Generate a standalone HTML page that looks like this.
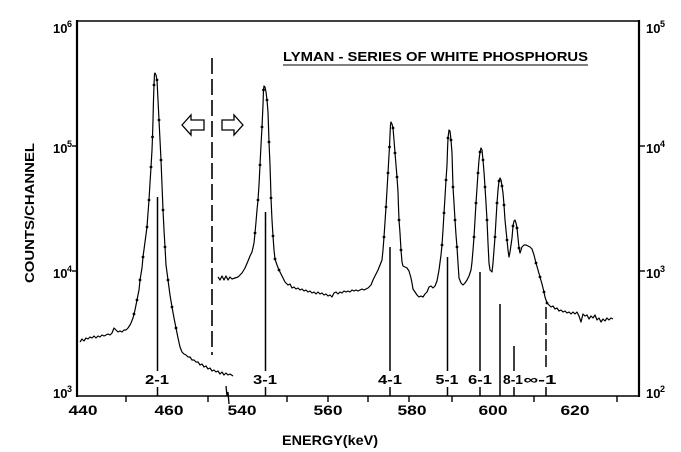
<!DOCTYPE html>
<html><head><meta charset="utf-8"><style>
html,body{margin:0;padding:0;background:#fff;}
svg{display:block;}
text{font-family:"Liberation Sans",sans-serif;fill:#000;}
</style></head><body>
<svg width="681" height="452" viewBox="0 0 681 452" xmlns="http://www.w3.org/2000/svg">
<rect width="681" height="452" fill="#fff"/>
<!-- frame -->
<line x1="77" y1="21" x2="639" y2="21" stroke="#000" stroke-width="1.6"/>
<line x1="77" y1="396" x2="639" y2="396" stroke="#000" stroke-width="1.6"/>
<line x1="77" y1="20" x2="77" y2="397" stroke="#000" stroke-width="2.2"/>
<line x1="639" y1="20" x2="639" y2="397" stroke="#000" stroke-width="2.2"/>
<!-- y ticks -->
<line x1="72" y1="146" x2="77" y2="146" stroke="#000" stroke-width="1.4"/>
<line x1="72" y1="271" x2="77" y2="271" stroke="#000" stroke-width="1.4"/>
<line x1="639" y1="146" x2="645" y2="146" stroke="#000" stroke-width="1.4"/>
<line x1="639" y1="271" x2="645" y2="271" stroke="#000" stroke-width="1.4"/>
<!-- x ticks -->
<g stroke="#000" stroke-width="1.4">
<line x1="126" y1="396" x2="126" y2="402"/>
<line x1="208" y1="396" x2="208" y2="402"/>
<line x1="287" y1="396" x2="287" y2="402"/>
<line x1="328" y1="396" x2="328" y2="402"/>
<line x1="368" y1="396" x2="368" y2="402"/>
<line x1="409" y1="396" x2="409" y2="402"/>
<line x1="452" y1="396" x2="452" y2="402"/>
<line x1="534" y1="396" x2="534" y2="402"/>
<line x1="617" y1="396" x2="617" y2="402"/>
</g>
<!-- axis break -->
<path d="M226,386 L227,396 L228,392 L229,404" fill="none" stroke="#000" stroke-width="1.3"/>
<!-- y labels left -->
<g font-weight="bold" font-size="13">
<text x="53" y="33">10</text><text x="67" y="27" font-size="9">6</text>
<text x="53" y="153">10</text><text x="67" y="147" font-size="9">5</text>
<text x="53" y="278">10</text><text x="67" y="272" font-size="9">4</text>
<text x="53" y="398">10</text><text x="67" y="392" font-size="9">3</text>
<!-- right -->
<text x="646" y="33">10</text><text x="660" y="27" font-size="9">5</text>
<text x="646" y="153">10</text><text x="660" y="147" font-size="9">4</text>
<text x="646" y="278">10</text><text x="660" y="272" font-size="9">3</text>
<text x="646" y="398">10</text><text x="660" y="392" font-size="9">2</text>
</g>
<!-- x labels -->
<g font-weight="bold" font-size="14" text-anchor="middle">
<text x="83" y="415" textLength="29" lengthAdjust="spacingAndGlyphs">440</text>
<text x="169" y="415" textLength="29" lengthAdjust="spacingAndGlyphs">460</text>
<text x="242" y="415" textLength="29" lengthAdjust="spacingAndGlyphs">540</text>
<text x="328" y="415" textLength="29" lengthAdjust="spacingAndGlyphs">560</text>
<text x="412" y="415" textLength="29" lengthAdjust="spacingAndGlyphs">580</text>
<text x="493" y="415" textLength="29" lengthAdjust="spacingAndGlyphs">600</text>
<text x="575" y="415" textLength="29" lengthAdjust="spacingAndGlyphs">620</text>
</g>
<text x="282" y="445" font-weight="bold" font-size="14" textLength="96" lengthAdjust="spacingAndGlyphs">ENERGY(keV)</text>
<text transform="translate(34,283) rotate(-90)" font-weight="bold" font-size="12.5" textLength="140" lengthAdjust="spacingAndGlyphs">COUNTS/CHANNEL</text>
<!-- title -->
<text x="283" y="61" font-size="13" font-weight="bold" textLength="305" lengthAdjust="spacingAndGlyphs">LYMAN - SERIES OF WHITE PHOSPHORUS</text>
<line x1="283" y1="65" x2="588" y2="65" stroke="#000" stroke-width="1.1"/>
<!-- dashed separator -->
<line x1="212" y1="58" x2="212" y2="355" stroke="#000" stroke-width="1.6" stroke-dasharray="16,5"/>
<!-- arrows -->
<path d="M182,125 L191,115 L191,120 L204,120 L204,130 L191,130 L191,135 Z" fill="#fff" stroke="#000" stroke-width="1.3"/>
<path d="M243,125 L234,115 L234,120 L222,120 L222,130 L234,130 L234,135 Z" fill="#fff" stroke="#000" stroke-width="1.3"/>
<!-- transition lines -->
<g stroke="#000" stroke-width="1.5">
<line x1="157.5" y1="197" x2="157.5" y2="371"/><line x1="157.5" y1="387" x2="157.5" y2="396"/>
<line x1="265.5" y1="212" x2="265.5" y2="371"/><line x1="265.5" y1="387" x2="265.5" y2="396"/>
<line x1="390" y1="247" x2="390" y2="371"/><line x1="390" y1="387" x2="390" y2="396"/>
<line x1="447.5" y1="257" x2="447.5" y2="371"/><line x1="447.5" y1="387" x2="447.5" y2="396"/>
<line x1="480" y1="272" x2="480" y2="371"/><line x1="480" y1="387" x2="480" y2="396"/>
<line x1="500" y1="304" x2="500" y2="396"/>
<line x1="514" y1="346" x2="514" y2="371"/><line x1="514" y1="387" x2="514" y2="396"/>
<line x1="546" y1="307" x2="546" y2="371" stroke-dasharray="12,4"/><line x1="546" y1="387" x2="546" y2="396"/>
</g>
<g font-weight="bold" font-size="13" text-anchor="middle">
<text x="157" y="384" textLength="24" lengthAdjust="spacingAndGlyphs">2-1</text>
<text x="265" y="384" textLength="24" lengthAdjust="spacingAndGlyphs">3-1</text>
<text x="390" y="384" textLength="24" lengthAdjust="spacingAndGlyphs">4-1</text>
<text x="447" y="384" textLength="23" lengthAdjust="spacingAndGlyphs">5-1</text>
<text x="480" y="384" textLength="24" lengthAdjust="spacingAndGlyphs">6-1</text>
<text x="513" y="384" textLength="20" lengthAdjust="spacingAndGlyphs">8-1</text>
<text x="540" y="384" textLength="33" lengthAdjust="spacingAndGlyphs">∞-1</text>
</g>
<!-- spectrum -->
<g fill="none" stroke="#000" stroke-width="1.2" stroke-linejoin="round">
<polyline points="80,342 82,339 84,341 86,338 88,339 90,337 92,338 94,336 96,338 98,336 100,337 102,335 104,336 106,335 108,334 110,335 112,333 114,328 116,330 118,332 120,331 122,332 124,330 126,330 128,328 130,325 131,323 133,318 135,310 137,300 139,290 140,280 142,268 143,257 145,242 147,227 148,213 149,200 150,183 151,167 152,150 152.5,137 153,120 153.5,100 154,85 154.5,74 155,73 156,75 157,80 158,100 159,120 160,140 161,160 162,185 163,210 164,230 165,247 166,265 168,280 170,295 172,307 174,318 176,328 178,338 180,347 182,352 184,354 186,355 188,357 190,357 192,360 194,360 196,362 198,362 200,365 202,364 204,367 206,366 208,369 210,368 212,371 214,370 216,372 218,371 220,374 222,372 224,375 226,373 228,375 230,374 233,376"/>
<polyline points="218,277 220,280 222,276 224,280 226,276 228,280 230,277 232,279 235,278 238,277 240,275 242,273 245,268 248,261 250,256 252,252 254,243 255,233 256,222 257,210 258,200 259,185 260,165 261,145 262,127 263,105 263.5,90 264,86 265,87 266,92 267,100 268,112 268.5,127 269,142 270,165 270.5,180 271,198 272,220 273,236 274,250 275,259 277,265 279,270 281,274 283,278 285,282 288,285 290,284 292,288 294,287 296,289 298,288 300,290 302,289 304,291 306,290 308,292 310,291 312,293 314,292 316,294 318,292 320,294 322,293 324,295 326,294 328,296 330,295 332,297 334,293 336,292 338,294 340,292 342,293 344,291 346,292 348,291 350,292 352,290 354,291 356,290 358,291 360,290 362,289 364,290 366,289 368,288 371,285 373,280 376,274 378,270 380,265 382,260 383,250 384,237 385,222 386,207 387,190 388,173 389,155 389.5,147 390,135 390.5,125 391,122 392,124 393,128 394,140 395,153 396,165 397,177 398,192 398.5,207 399,220 400,233 401,250 402,262 403,266 405,267 407,268 409,271 411,278 412,283 413,289 415,292 417,295 419,297 421,296 423,297 425,294 427,292 429,287 431,286 433,288 435,286 437,281 439,270 441,255 442,245 443,230 444,213 445,197 446,180 447,165 447.5,150 448,138 449,130 450,131 451,140 452,153 452.5,170 453,187 454,203 455,220 456,235 457,247 458,263 459,278 461,283 463,285 465,283 467,280 469,276 471,270 472,262 473,250 474,237 475,220 476,203 477,188 478,173 479,160 480,152 481,148 482,150 483,160 484,172 485,187 486,203 487,220 488,243 489,263 490,270 492,272 493,263 494,250 495,237 496,220 497,203 498,190 499,181 500,178 501,180 502,186 503,193 504,205 505,220 506,230 507,240 508,250 509,257 510,252 511,245 512,238 513,226 514,221 515,220 516,223 517,228 518,238 519,248 520,253 521,250 522,247 524,245 526,245 528,246 530,247 532,249 534,255 536,263 538,270 540,277 542,284 544,292 545,297 547,303 549,305 551,307 553,306 555,309 557,308 559,311 561,310 563,312 565,311 567,313 569,312 571,314 573,312 575,314 577,312 579,316 581,322 583,314 585,316 587,315 589,319 591,316 593,318 595,315 597,320 599,318 601,322 603,319 605,321 607,318 609,320 611,318 613,319"/>
</g>
<!-- dots -->
<g fill="#000">
<circle cx="143" cy="257" r="1.4"/><circle cx="147" cy="227" r="1.4"/><circle cx="149" cy="200" r="1.4"/><circle cx="151" cy="167" r="1.4"/><circle cx="152.5" cy="137" r="1.4"/><circle cx="154" cy="85" r="1.4"/><circle cx="157" cy="80" r="1.4"/><circle cx="159" cy="120" r="1.4"/><circle cx="161" cy="160" r="1.4"/><circle cx="163" cy="210" r="1.4"/><circle cx="165" cy="247" r="1.4"/><circle cx="168" cy="280" r="1.4"/><circle cx="172" cy="307" r="1.4"/><circle cx="176" cy="328" r="1.4"/><circle cx="140" cy="280" r="1.4"/><circle cx="137" cy="300" r="1.4"/><circle cx="134" cy="314" r="1.4"/>
<circle cx="255" cy="233" r="1.4"/><circle cx="258" cy="200" r="1.4"/><circle cx="260" cy="165" r="1.4"/><circle cx="262" cy="127" r="1.4"/><circle cx="263.5" cy="90" r="1.4"/><circle cx="267" cy="100" r="1.4"/><circle cx="269" cy="142" r="1.4"/><circle cx="271" cy="198" r="1.4"/><circle cx="273" cy="236" r="1.4"/><circle cx="275" cy="259" r="1.4"/><circle cx="279" cy="270" r="1.4"/>
<circle cx="384" cy="237" r="1.4"/><circle cx="386" cy="207" r="1.4"/><circle cx="388" cy="173" r="1.4"/><circle cx="389.5" cy="147" r="1.4"/><circle cx="393" cy="128" r="1.4"/><circle cx="395" cy="153" r="1.4"/><circle cx="397" cy="177" r="1.4"/><circle cx="399" cy="220" r="1.4"/><circle cx="401" cy="250" r="1.4"/>
<circle cx="442" cy="245" r="1.4"/><circle cx="444" cy="213" r="1.4"/><circle cx="446" cy="180" r="1.4"/><circle cx="448" cy="138" r="1.4"/><circle cx="451" cy="140" r="1.4"/><circle cx="453" cy="187" r="1.4"/><circle cx="455" cy="220" r="1.4"/><circle cx="457" cy="247" r="1.4"/>
<circle cx="474" cy="237" r="1.4"/><circle cx="476" cy="203" r="1.4"/><circle cx="478" cy="173" r="1.4"/><circle cx="480" cy="152" r="1.4"/><circle cx="483" cy="160" r="1.4"/><circle cx="485" cy="187" r="1.4"/><circle cx="487" cy="220" r="1.4"/>
<circle cx="495" cy="237" r="1.4"/><circle cx="497" cy="203" r="1.4"/><circle cx="499" cy="181" r="1.4"/><circle cx="502" cy="186" r="1.4"/><circle cx="504" cy="205" r="1.4"/><circle cx="507" cy="240" r="1.4"/><circle cx="513" cy="226" r="1.4"/><circle cx="517" cy="228" r="1.4"/><circle cx="519" cy="248" r="1.4"/>
<circle cx="536" cy="263" r="1.4"/><circle cx="540" cy="277" r="1.4"/><circle cx="544" cy="292" r="1.4"/><circle cx="547" cy="303" r="1.4"/>
</g>
</svg>
</body></html>
